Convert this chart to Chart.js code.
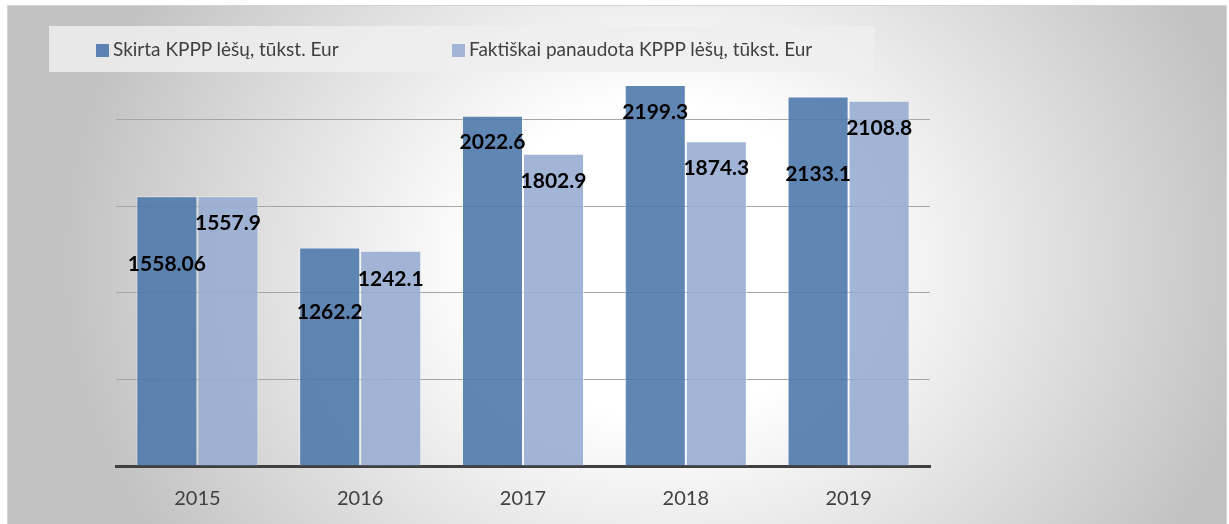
<!DOCTYPE html>
<html>
<head>
<meta charset="utf-8">
<script src="https://cdn.jsdelivr.net/npm/chart.js@4"></script>
<style>
  html, body { margin: 0; padding: 0; background: #fff; overflow: hidden; }
  #frame {
    position: absolute; left: 7px; top: 5px; width: 1218px; height: 519px;
    border-top: 1px solid #d4d4d4; border-left: 1px solid #d4d4d4; border-right: 1px solid #d4d4d4;
    background: radial-gradient(ellipse 600px 520px at 653px 255px, #ffffff 0%, #ffffff 30%, #c2c2c2 100%);
  }
  #box { position: absolute; left: 0; top: 0; width: 1229px; height: 524px; }
  #legend {
    position: absolute; left: 49px; top: 26px; width: 825px; height: 46px;
    background: rgba(238, 238, 238, 0.85);
    font-family: Lato, sans-serif; font-size: 19px; color: #404040;
  }
  #legend .item { position: absolute; top: 0; height: 46px; line-height: 46px; white-space: nowrap; }
  #legend .swatch { display: inline-block; width: 13px; height: 13px; margin-right: 4px; vertical-align: -1px; }
</style>
</head>
<body>
<div id="frame"></div>
<div id="box"><canvas id="kpppChart"></canvas></div>
<div id="legend"></div>
<script>
const years = ["2015", "2016", "2017", "2018", "2019"];
const skirta = [1558.06, 1262.2, 2022.6, 2199.3, 2133.1];
const panaudota = [1557.9, 1242.1, 1802.9, 1874.3, 2108.8];
const seriesNames = ["Skirta KPPP lėšų, tūkst. Eur", "Faktiškai panaudota KPPP lėšų, tūkst. Eur"];

// value labels were moved by hand in the original, so keep a per-bar nudge (px below bar top)
const labelNudge = [
  [68, 65, 27, 27, 78],
  [27, 28, 27, 27, 27],
];

const valueLabels = {
  id: "valueLabels",
  afterDatasetsDraw(chart) {
    const ctx = chart.ctx;
    ctx.save();
    ctx.font = "bold 21px Lato";
    ctx.fillStyle = "#000";
    ctx.textAlign = "center";
    ctx.textBaseline = "middle";
    chart.data.datasets.forEach(function (ds, i) {
      chart.getDatasetMeta(i).data.forEach(function (bar, j) {
        ctx.fillText(String(ds.data[j]), bar.x, bar.y + labelNudge[i][j]);
      });
    });
    ctx.restore();
  },
};

const chart = new Chart(document.getElementById("kpppChart"), {
  type: "bar",
  data: {
    labels: years,
    datasets: [
      {
        label: seriesNames[0],
        data: skirta,
        backgroundColor: "rgba(79, 121, 172, 0.9)",
        swatch: "#5b82b2",
        borderColor: "rgba(255, 255, 255, 0.45)",
        borderWidth: 1,
      },
      {
        label: seriesNames[1],
        data: panaudota,
        backgroundColor: "rgba(152, 173, 209, 0.9)",
        swatch: "#a2b5d6",
        borderColor: "rgba(255, 255, 255, 0.45)",
        borderWidth: 1,
      },
    ],
  },
  options: {
    responsive: true,
    maintainAspectRatio: false,
    animation: false,
    layout: { padding: { left: 116, right: 299, top: 33, bottom: 0 } },
    plugins: { legend: { display: false }, tooltip: { enabled: false } },
    datasets: { bar: { categoryPercentage: 0.75, barPercentage: 1 } },
    scales: {
      x: {
        grid: { display: false },
        border: { display: true, color: "#404040", width: 3 },
        ticks: { color: "#404040", font: { family: "Lato", size: 20 }, padding: 13 },
      },
      y: {
        min: 0,
        max: 2500,
        ticks: { display: false, stepSize: 500 },
        border: { display: false },
        grid: {
          drawTicks: false,
          color: function (c) {
            return c.tick.value === 0 || c.tick.value === 2500 ? "rgba(0,0,0,0)" : "#a6a6a6";
          },
        },
      },
    },
  },
  plugins: [valueLabels],
});

// legend in its own grey strip, built from the datasets
const legendEl = document.getElementById("legend");
const itemLeft = [47, 403];
chart.data.datasets.forEach(function (ds, i) {
  const item = document.createElement("div");
  item.className = "item";
  item.style.left = itemLeft[i] + "px";
  const sw = document.createElement("span");
  sw.className = "swatch";
  sw.style.background = ds.swatch;
  item.appendChild(sw);
  item.appendChild(document.createTextNode(ds.label));
  legendEl.appendChild(item);
});
</script>
</body>
</html>
